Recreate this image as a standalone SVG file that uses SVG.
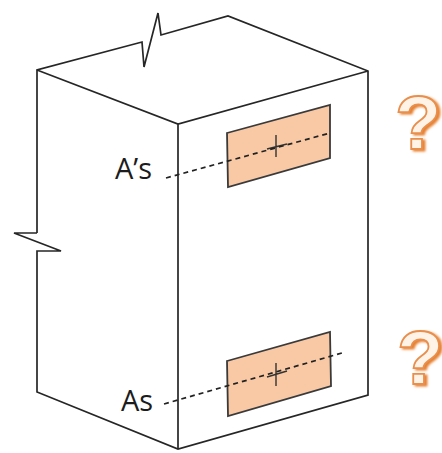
<svg xmlns="http://www.w3.org/2000/svg" width="442" height="453" viewBox="0 0 442 453">
<defs>
<filter id="qshadow" x="-20%" y="-20%" width="140%" height="140%">
<feDropShadow dx="2.5" dy="1.5" stdDeviation="0.8" flood-color="#e67f2e"/>
</filter>
</defs>
<style>
.e{fill:none;stroke:#262626;stroke-width:1.7;stroke-linejoin:miter}
.p{fill:#f8c9a4;stroke:#3a3a3a;stroke-width:1.8}
.d{fill:none;stroke:#222;stroke-width:1.7;stroke-dasharray:5 4}
.c{fill:none;stroke:#333;stroke-width:1.4}
.t{font-family:"Open Sans","Noto Sans",sans-serif;font-size:29px;fill:#1c1c1c}
.q{font-family:"Liberation Sans",sans-serif;font-weight:bold;font-size:76px;fill:#fff3e8;stroke:#e88f4d;stroke-width:1.8;filter:url(#qshadow)}
</style>
<rect width="442" height="453" fill="#fff"/>
<g id="column">
<path class="e" d="M37 233V70L142 42L144 67L158 13L161 35L228 16L368 71V395L178 449L37 392V251H61L14 233H37"/>
<path class="e" d="M37 70L178 124L368 71M178 124V449"/>
</g>
<g id="top-bar">
<path class="p" d="M227 133L330 105V158L228 187Z"/>
<path class="c" d="M276 135V157M267 149L287 144"/>
</g>
<g id="bottom-bar">
<path class="p" d="M227 361L330 332L331 386L228 416Z"/>
<path class="c" d="M276 363V386M267 377L287 371"/>
</g>
<g id="connectors">
<path class="d" d="M166 178L330 133"/>
<path class="d" d="M164 404L342 353"/>
</g>
<g id="label-top"><text class="t" x="115" y="179">A’s</text></g>
<g id="label-bottom"><text class="t" x="121" y="411">As</text></g>
<g id="question-top"><text class="q" x="395" y="149">?</text></g>
<g id="question-bottom"><text class="q" x="397" y="384">?</text></g>
</svg>
